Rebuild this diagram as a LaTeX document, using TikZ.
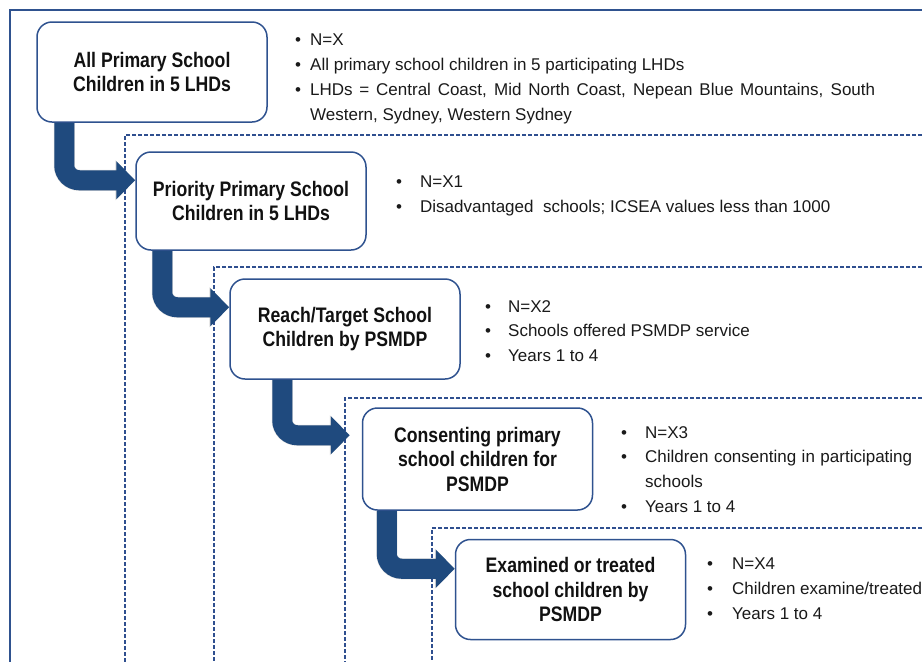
\documentclass[tikz,border=0pt]{standalone}
\usepackage{fontspec}
\setmainfont{Liberation Sans}
\newfontfamily\boxfont[FakeStretch=0.84]{Liberation Sans Bold}
\usetikzlibrary{arrows.meta,calc}

\definecolor{flowblue}{HTML}{1F4A7E}
\definecolor{boxblue}{HTML}{2F528F}
\definecolor{dashblue}{HTML}{2F4F8F}
\definecolor{boxtext}{HTML}{111111}
\definecolor{notetext}{HTML}{1A1A1A}

\hyphenpenalty=10000
\exhyphenpenalty=10000
\tolerance=9999

% one bullet paragraph with a hanging indent of #1 pt
\newcommand\bitem[2]{\hangindent=#1pt\hangafter=1\noindent\makebox[#1pt][l]{\textbullet}#2\par}

\begin{document}
\begin{tikzpicture}[x=1pt,y=-1pt,
  stagebox/.style={draw=boxblue, line width=1.5pt, fill=white, rounded corners=15pt,
    minimum width=230pt, minimum height=100pt, align=center, inner sep=0pt,
    text=boxtext, font=\boxfont\fontsize{21}{24.5}\selectfont},
  notes/.style={anchor=north west, inner sep=0pt, align=justify, text=notetext,
    font=\fontsize{17}{24.8}\selectfont},
  frameline/.style={draw=boxblue, line width=1.6pt},
  dashframe/.style={draw=dashblue, line width=1.2pt, dash pattern=on 4pt off 2pt},
  flowarrow/.style={draw=flowblue, line width=20pt, rounded corners=15pt,
    -{Triangle[length=19pt,width=37pt]}},
  flowshadow/.style={draw=black, opacity=0.14, line width=21pt, rounded corners=15pt,
    -{Triangle[length=20pt,width=39pt]}, xshift=2pt, yshift=-4pt}
]
\useasboundingbox (0,0) rectangle (922,662);
\fill[white] (0,0) rectangle (922,662);

% nested population frames
\draw[frameline] (922,10) -| (10,662);
\draw[dashframe] (922,135) -| (125,662);
\draw[dashframe] (922,267) -| (214,662);
\draw[dashframe] (922,398) -| (345,662);
\draw[dashframe] (922,528) -| (432,662);

% stages
\node[stagebox] (b1) at (152,72) {All Primary School\\Children in 5 LHDs};
\node[stagebox, minimum height=98pt] (b2) at (251,201) {Priority Primary School\\Children in 5 LHDs};
\node[stagebox] (b3) at (345,329) {Reach/Target School\\Children by PSMDP};
\node[stagebox, minimum height=102pt] (b4) at (477.5,459) {Consenting primary\\school children for\\PSMDP};
\node[stagebox] (b5) at (570.5,589.5) {Examined or treated\\school children by\\PSMDP};

% bent arrows between stages
\draw[flowshadow] ($(b1.south west)+(28,0)$) |- ($(b2.north west)+(0,29)$);
\draw[flowarrow]  ($(b1.south west)+(28,0)$) |- ($(b2.north west)+(0,29)$);
\draw[flowshadow] ($(b2.south west)+(27,0)$) |- ($(b3.north west)+(0,29)$);
\draw[flowarrow]  ($(b2.south west)+(27,0)$) |- ($(b3.north west)+(0,29)$);
\draw[flowshadow] ($(b3.south west)+(53,0)$) |- ($(b4.north west)+(-12,28)$);
\draw[flowarrow]  ($(b3.south west)+(53,0)$) |- ($(b4.north west)+(-12,28)$);
\draw[flowshadow] ($(b4.south west)+(25,0)$) |- ($(b5.north west)+(0,30)$);
\draw[flowarrow]  ($(b4.south west)+(25,0)$) |- ($(b5.north west)+(0,30)$);

% stage descriptions
\node[notes, text width=580pt] (n1) at (295,34) {%
  \bitem{15}{N=X}%
  \bitem{15}{All primary school children in 5 participating LHDs}%
  \bitem{15}{LHDs = Central Coast, Mid North Coast, Nepean Blue Mountains, South Western, Sydney, Western Sydney}};
\node[notes, text width=480pt] (n2) at (396,176) {%
  \bitem{24}{N=X1}%
  \bitem{24}{Disadvantaged\ \ schools; ICSEA values less than 1000}};
\node[notes, text width=420pt] (n3) at (485,300) {%
  \bitem{23}{N=X2}%
  \bitem{23}{Schools offered PSMDP service}%
  \bitem{23}{Years 1 to 4}};
\node[notes, text width=291pt] (n4) at (621,426) {%
  \bitem{24}{N=X3}%
  \bitem{24}{Children consenting in participating schools}%
  \bitem{24}{Years 1 to 4}};
\node[notes, text width=240pt] (n5) at (707,558) {%
  \bitem{25}{N=X4}%
  \bitem{25}{Children examine/treated}%
  \bitem{25}{Years 1 to 4}};
\end{tikzpicture}
\end{document}
